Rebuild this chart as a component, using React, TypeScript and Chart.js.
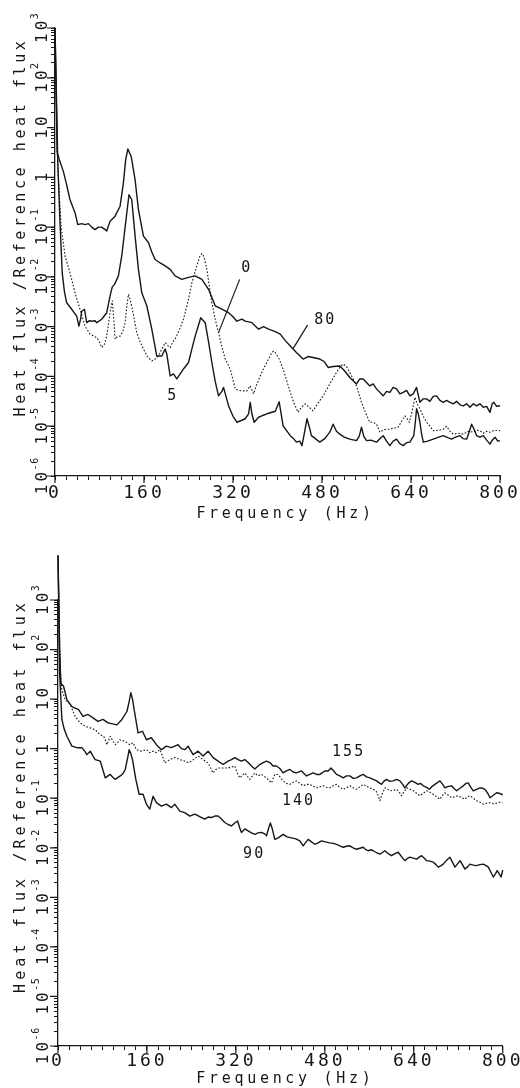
import { useEffect, useRef } from "react";
import { Chart, registerables } from "chart.js";

Chart.register(...registerables);

const INK = "#161616";
const PLOTTER_FONT = '"DejaVu Sans Mono", "Liberation Mono", monospace';

// Frequency axis (Hz)
const FREQ_MIN = 0;
const FREQ_MAX = 800;
const FREQ_STEP = 20;
const FREQ_LABEL_STEP = 160;

// Heat-flux ratio axis, decade exponents
const DECADE_MIN = -6;
const DECADE_MAX = 3;
const MINOR_MULTIPLIERS = [1, 2, 3, 4, 5, 6, 7, 8, 9];

const X_TITLE = "Frequency (Hz)";
const Y_TITLE = "Heat flux /Reference heat flux";

// Spectra: [frequency in Hz, log10(heat flux / reference heat flux)]
const spectrum80: [number, number][] = [
  [0, 3.0], [4, 0.5], [8, 0.35], [15, 0.12], [21, -0.15], [27, -0.45], [36, -0.71], [41, -0.95],
  [48, -0.93], [54, -0.95], [60, -0.93], [66, -1.0], [72, -1.05], [78, -1.0], [84, -1.0], [90, -1.05],
  [93, -1.08], [99, -0.88], [108, -0.78], [117, -0.58], [123, -0.11], [127, 0.35], [131, 0.57],
  [137, 0.42], [144, -0.05], [150, -0.65], [159, -1.18], [168, -1.31], [174, -1.5], [180, -1.65],
  [189, -1.72], [198, -1.78], [207, -1.85], [216, -1.98], [228, -2.05], [240, -2.01], [252, -1.98],
  [264, -2.05], [276, -2.25], [288, -2.58], [300, -2.65], [312, -2.72], [320, -2.8], [327, -2.89],
  [336, -2.85], [342, -2.89], [354, -2.92], [366, -3.05], [375, -3.0], [384, -3.05], [396, -3.1],
  [405, -3.15], [414, -3.28], [423, -3.39], [434, -3.52], [446, -3.65], [455, -3.6], [464, -3.62],
  [476, -3.65], [484, -3.7], [491, -3.82], [500, -3.8], [512, -3.79], [520, -3.88], [530, -4.02],
  [542, -4.15], [548, -4.05], [554, -4.05], [566, -4.19], [572, -4.15], [578, -4.25], [590, -4.39],
  [596, -4.3], [602, -4.32], [608, -4.22], [614, -4.25], [620, -4.35], [626, -4.32], [632, -4.28],
  [638, -4.39], [644, -4.35], [650, -4.22], [656, -4.52], [662, -4.45], [668, -4.45], [674, -4.5],
  [680, -4.4], [686, -4.39], [692, -4.48], [698, -4.52], [704, -4.48], [710, -4.52], [716, -4.55],
  [722, -4.5], [728, -4.57], [734, -4.59], [740, -4.55], [746, -4.62], [752, -4.55], [758, -4.59],
  [764, -4.55], [770, -4.62], [776, -4.6], [782, -4.72], [786, -4.55], [789, -4.52], [794, -4.6],
  [800, -4.59],
];

const spectrum5: [number, number][] = [
  [0, 3.0], [5, 0.3], [9, -0.9], [13, -1.92], [17, -2.3], [21, -2.52], [30, -2.65], [39, -2.79],
  [43, -2.99], [46, -2.85], [48, -2.69], [53, -2.65], [57, -2.92], [62, -2.88], [66, -2.89],
  [72, -2.88], [75, -2.92], [84, -2.85], [93, -2.72], [99, -2.38], [103, -2.2], [107, -2.15],
  [114, -1.98], [120, -1.58], [127, -0.91], [133, -0.35], [138, -0.45], [144, -1.18], [150, -1.85],
  [156, -2.32], [165, -2.58], [174, -3.05], [183, -3.59], [192, -3.59], [198, -3.45], [201, -3.55],
  [207, -3.99], [213, -3.95], [219, -4.05], [225, -3.95], [231, -3.85], [240, -3.72], [246, -3.45],
  [252, -3.19], [262, -2.82], [270, -2.92], [276, -3.3], [282, -3.72], [288, -4.1], [294, -4.39],
  [300, -4.3], [303, -4.22], [312, -4.59], [320, -4.8], [327, -4.92], [336, -4.88], [342, -4.85],
  [348, -4.75], [351, -4.52], [354, -4.75], [358, -4.92], [366, -4.82], [372, -4.79], [381, -4.75],
  [390, -4.72], [396, -4.7], [403, -4.51], [410, -4.99], [417, -5.1], [423, -5.19], [429, -5.25],
  [434, -5.32], [440, -5.3], [444, -5.39], [449, -5.1], [453, -4.85], [458, -5.05], [461, -5.19],
  [468, -5.25], [476, -5.32], [485, -5.25], [494, -5.12], [500, -4.96], [506, -5.1], [512, -5.16],
  [520, -5.22], [530, -5.26], [542, -5.29], [547, -5.2], [551, -5.02], [555, -5.2], [560, -5.29],
  [568, -5.28], [578, -5.32], [584, -5.25], [590, -5.19], [596, -5.3], [602, -5.39], [608, -5.3],
  [614, -5.26], [620, -5.35], [626, -5.39], [632, -5.33], [638, -5.32], [645, -5.19], [648, -4.9],
  [650, -4.65], [653, -4.75], [656, -4.92], [659, -5.15], [662, -5.32], [670, -5.3], [680, -5.26],
  [690, -5.22], [698, -5.19], [706, -5.23], [713, -5.26], [720, -5.22], [728, -5.19], [734, -5.25],
  [740, -5.26], [745, -5.1], [749, -4.96], [753, -5.05], [758, -5.19], [764, -5.22], [770, -5.19],
  [776, -5.28], [782, -5.36], [786, -5.28], [791, -5.22], [796, -5.3], [800, -5.29],
];

const spectrum0: [number, number][] = [
  [0, 3.0], [4, 0.5], [8, -0.4], [11, -0.98], [18, -1.58], [27, -1.92], [36, -2.32], [45, -2.65],
  [54, -2.99], [63, -3.15], [75, -3.22], [80, -3.3], [84, -3.42], [89, -3.35], [93, -3.19],
  [99, -2.72], [103, -2.48], [106, -2.9], [108, -3.25], [112, -3.2], [117, -3.19], [122, -3.1],
  [126, -2.92], [129, -2.6], [132, -2.35], [135, -2.45], [139, -2.65], [147, -3.12], [153, -3.3],
  [159, -3.45], [166, -3.6], [174, -3.69], [180, -3.65], [186, -3.59], [192, -3.45], [198, -3.32],
  [203, -3.38], [207, -3.42], [212, -3.3], [216, -3.25], [224, -3.05], [231, -2.85], [240, -2.45],
  [246, -2.12], [255, -1.78], [260, -1.6], [264, -1.53], [268, -1.6], [273, -1.85], [282, -2.52],
  [288, -2.85], [294, -3.12], [300, -3.4], [306, -3.65], [315, -3.85], [324, -4.25], [330, -4.28],
  [336, -4.29], [345, -4.29], [351, -4.19], [357, -4.35], [363, -4.15], [369, -3.99], [376, -3.82],
  [384, -3.65], [390, -3.52], [393, -3.49], [396, -3.52], [403, -3.65], [410, -3.85], [417, -4.1],
  [423, -4.32], [430, -4.55], [437, -4.72], [443, -4.62], [450, -4.55], [457, -4.62], [464, -4.69],
  [472, -4.55], [482, -4.39], [494, -4.15], [506, -3.92], [512, -3.82], [518, -3.75], [524, -3.8],
  [530, -3.92], [536, -4.05], [542, -4.19], [551, -4.52], [558, -4.72], [566, -4.92], [572, -4.92],
  [578, -4.96], [584, -5.12], [590, -5.08], [596, -5.06], [602, -5.06], [608, -5.04], [617, -5.02],
  [623, -4.9], [629, -4.79], [633, -4.85], [637, -4.92], [642, -4.7], [647, -4.42], [651, -4.55],
  [656, -4.65], [662, -4.8], [668, -4.92], [674, -5.0], [680, -5.09], [690, -5.08], [698, -5.06],
  [704, -5.0], [710, -5.1], [716, -5.16], [725, -5.14], [734, -5.16], [743, -5.1], [752, -5.12],
  [758, -5.08], [764, -5.09], [770, -5.14], [776, -5.1], [782, -5.12], [790, -5.08], [800, -5.09],
];

const spectrum155: [number, number][] = [
  [0, 3.9], [3, 2.0], [5, 1.32], [10, 1.26], [16, 0.99], [25, 0.85], [31, 0.82], [37, 0.79],
  [45, 0.65], [54, 0.69], [63, 0.62], [72, 0.55], [81, 0.59], [90, 0.52], [98, 0.5], [106, 0.48],
  [115, 0.59], [124, 0.75], [128, 0.95], [131, 1.13], [134, 1.0], [137, 0.79], [144, 0.32],
  [152, 0.35], [159, 0.18], [168, 0.22], [177, 0.08], [186, -0.02], [195, 0.05], [204, 0.02],
  [210, 0.05], [216, 0.08], [222, 0.0], [228, -0.02], [234, 0.05], [243, -0.12], [252, -0.05],
  [261, -0.15], [270, -0.05], [279, -0.18], [288, -0.25], [297, -0.32], [306, -0.25], [312, -0.22],
  [318, -0.18], [324, -0.22], [330, -0.25], [336, -0.22], [342, -0.28], [348, -0.35], [354, -0.41],
  [363, -0.32], [369, -0.28], [375, -0.25], [381, -0.28], [387, -0.35], [393, -0.35], [399, -0.4],
  [405, -0.49], [411, -0.45], [417, -0.42], [423, -0.47], [429, -0.49], [438, -0.45], [447, -0.55],
  [453, -0.52], [459, -0.49], [465, -0.52], [471, -0.52], [480, -0.45], [486, -0.45], [491, -0.39],
  [496, -0.45], [501, -0.52], [507, -0.55], [513, -0.59], [519, -0.55], [525, -0.55], [531, -0.6],
  [537, -0.59], [543, -0.55], [549, -0.52], [555, -0.57], [561, -0.59], [567, -0.62], [573, -0.65],
  [578, -0.69], [582, -0.72], [586, -0.66], [591, -0.62], [597, -0.66], [603, -0.65], [609, -0.62],
  [615, -0.65], [620, -0.72], [624, -0.79], [630, -0.7], [636, -0.65], [642, -0.68], [648, -0.72],
  [652, -0.7], [657, -0.75], [663, -0.78], [668, -0.82], [673, -0.76], [678, -0.72], [683, -0.68],
  [687, -0.65], [692, -0.72], [696, -0.79], [702, -0.76], [708, -0.75], [712, -0.8], [717, -0.85],
  [723, -0.8], [729, -0.75], [734, -0.7], [738, -0.69], [742, -0.77], [747, -0.85], [753, -0.82],
  [759, -0.79], [764, -0.8], [768, -0.82], [773, -0.9], [777, -0.99], [783, -0.94], [789, -0.89],
  [794, -0.9], [798, -0.92], [800, -0.93],
];

const spectrum140: [number, number][] = [
  [0, 3.9], [4, 1.6], [7, 1.19], [13, 0.99], [22, 0.89], [31, 0.65], [40, 0.52], [49, 0.45],
  [58, 0.42], [67, 0.38], [76, 0.28], [82, 0.25], [85, 0.18], [88, 0.08], [94, 0.25], [99, 0.15],
  [103, 0.08], [107, 0.12], [111, 0.18], [120, 0.15], [129, 0.08], [135, 0.12], [141, -0.02],
  [150, -0.05], [159, -0.02], [165, -0.08], [171, -0.05], [177, -0.08], [183, -0.02], [188, -0.15],
  [192, -0.29], [201, -0.22], [210, -0.18], [219, -0.22], [228, -0.25], [234, -0.28], [240, -0.25],
  [246, -0.2], [252, -0.15], [261, -0.22], [270, -0.29], [275, -0.4], [279, -0.49], [284, -0.42],
  [288, -0.39], [297, -0.39], [306, -0.39], [312, -0.37], [318, -0.35], [322, -0.48], [327, -0.59],
  [336, -0.49], [345, -0.62], [354, -0.49], [360, -0.55], [366, -0.52], [375, -0.59], [384, -0.69],
  [390, -0.52], [396, -0.52], [405, -0.65], [411, -0.7], [417, -0.72], [423, -0.68], [429, -0.65],
  [435, -0.7], [441, -0.75], [447, -0.72], [453, -0.72], [459, -0.76], [465, -0.79], [471, -0.77],
  [477, -0.75], [483, -0.78], [489, -0.79], [495, -0.75], [501, -0.72], [507, -0.78], [513, -0.82],
  [519, -0.79], [525, -0.75], [531, -0.79], [537, -0.82], [543, -0.77], [549, -0.72], [555, -0.76],
  [561, -0.79], [567, -0.82], [572, -0.85], [576, -0.95], [579, -1.05], [583, -0.92], [588, -0.79],
  [593, -0.82], [597, -0.85], [603, -0.84], [609, -0.82], [614, -0.88], [618, -0.95], [622, -0.88],
  [627, -0.79], [633, -0.82], [639, -0.85], [645, -0.9], [651, -0.95], [657, -0.9], [663, -0.85],
  [669, -0.88], [675, -0.92], [681, -0.97], [687, -1.02], [691, -0.95], [696, -0.89], [702, -0.94],
  [708, -0.99], [714, -0.97], [720, -0.95], [726, -0.99], [732, -1.02], [736, -0.98], [741, -0.95],
  [747, -1.0], [753, -1.05], [759, -1.08], [765, -1.12], [771, -1.1], [777, -1.09], [783, -1.11],
  [789, -1.1], [794, -1.08], [800, -1.08],
];

const spectrum90: [number, number][] = [
  [0, 3.9], [3, 1.5], [7, 0.59], [11, 0.4], [16, 0.25], [25, 0.05], [34, 0.02], [43, 0.02],
  [48, -0.05], [52, -0.12], [58, -0.05], [63, -0.15], [67, -0.22], [76, -0.25], [80, -0.4],
  [85, -0.59], [90, -0.55], [94, -0.52], [99, -0.58], [103, -0.62], [112, -0.55], [117, -0.5],
  [121, -0.42], [125, -0.2], [128, -0.02], [131, -0.1], [134, -0.22], [140, -0.62], [146, -0.92],
  [153, -0.92], [159, -1.12], [165, -1.22], [171, -0.96], [177, -1.09], [186, -1.16], [195, -1.12],
  [204, -1.19], [210, -1.12], [219, -1.26], [228, -1.29], [237, -1.36], [246, -1.32], [255, -1.37],
  [264, -1.42], [270, -1.38], [276, -1.39], [282, -1.36], [288, -1.36], [294, -1.42], [300, -1.49],
  [306, -1.53], [312, -1.56], [318, -1.5], [323, -1.46], [327, -1.6], [330, -1.69], [336, -1.62],
  [342, -1.66], [348, -1.7], [354, -1.73], [360, -1.7], [366, -1.69], [372, -1.72], [375, -1.76],
  [379, -1.6], [382, -1.5], [385, -1.6], [390, -1.83], [396, -1.8], [405, -1.73], [412, -1.78],
  [420, -1.8], [428, -1.82], [435, -1.86], [441, -1.96], [445, -1.9], [450, -1.83], [456, -1.88],
  [462, -1.93], [468, -1.9], [474, -1.86], [481, -1.88], [489, -1.9], [495, -1.91], [501, -1.93],
  [507, -1.96], [513, -1.99], [519, -1.97], [525, -1.96], [531, -2.0], [537, -2.03], [543, -2.01],
  [549, -1.99], [553, -2.03], [558, -2.06], [563, -2.04], [567, -2.06], [573, -2.1], [579, -2.13],
  [584, -2.09], [588, -2.06], [594, -2.12], [600, -2.16], [606, -2.12], [612, -2.09], [618, -2.18],
  [624, -2.26], [628, -2.22], [633, -2.19], [639, -2.21], [645, -2.23], [650, -2.19], [654, -2.16],
  [659, -2.21], [663, -2.26], [669, -2.27], [675, -2.29], [680, -2.34], [684, -2.39], [689, -2.36],
  [693, -2.33], [699, -2.25], [705, -2.19], [710, -2.3], [714, -2.39], [719, -2.32], [723, -2.26],
  [728, -2.35], [732, -2.43], [737, -2.38], [741, -2.33], [747, -2.35], [753, -2.36], [759, -2.34],
  [765, -2.33], [770, -2.36], [774, -2.39], [779, -2.5], [783, -2.59], [787, -2.52], [790, -2.46],
  [794, -2.53], [797, -2.59], [800, -2.45],
];

// Curve tags [frequency, log10 ratio] and their leader lines
const upperTags: { text: string; at: [number, number] }[] = [
  { text: "0", at: [343, -1.83] },
  { text: "80", at: [484, -2.87] },
  { text: "5", at: [210, -4.39] },
];
const upperLeaders: { from: [number, number]; to: [number, number] }[] = [
  { from: [332, -2.05], to: [294, -3.12] },
  { from: [454, -2.97], to: [428, -3.44] },
];
const lowerTags: { text: string; at: [number, number] }[] = [
  { text: "155", at: [521, -0.07] },
  { text: "140", at: [431, -1.06] },
  { text: "90", at: [351, -2.12] },
];

type Curve = { label: string; points: [number, number][]; dotted: boolean };
type Panel = {
  curves: Curve[];
  tags: { text: string; at: [number, number] }[];
  leaders: { from: [number, number]; to: [number, number] }[];
  area: { left: number; top: number; right: number; bottom: number };
  xTickPad: number;
  xTitleDy: number;
  xTitleDx: number;
  yLabelGap: number;
  yTitleX: number;
  yTitleDy: number;
  yTitleSpacing: number;
};

const CANVAS_W = 520;
const CANVAS_H = 544;

const upperPanel: Panel = {
  curves: [
    { label: "80", points: spectrum80, dotted: false },
    { label: "5", points: spectrum5, dotted: false },
    { label: "0", points: spectrum0, dotted: true },
  ],
  tags: upperTags,
  leaders: upperLeaders,
  area: { left: 55, top: 28, right: 500, bottom: 476 },
  xTickPad: 3,
  xTitleDy: 38,
  xTitleDx: 8,
  yLabelGap: 8,
  yTitleX: 25,
  yTitleDy: -25,
  yTitleSpacing: 3.6,
};

const lowerPanel: Panel = {
  curves: [
    { label: "155", points: spectrum155, dotted: false },
    { label: "140", points: spectrum140, dotted: true },
    { label: "90", points: spectrum90, dotted: false },
  ],
  tags: lowerTags,
  leaders: [],
  area: { left: 58, top: 56, right: 503, bottom: 502 },
  xTickPad: 1,
  xTitleDy: 33,
  xTitleDx: 5,
  yLabelGap: 10,
  yTitleX: 25,
  yTitleDy: -27,
  yTitleSpacing: 4.1,
};

function ratioTicks(): number[] {
  const out: number[] = [];
  for (let e = DECADE_MIN; e < DECADE_MAX; e++) {
    for (const m of MINOR_MULTIPLIERS) out.push(m * Math.pow(10, e));
  }
  out.push(Math.pow(10, DECADE_MAX));
  return out;
}

function isDecade(v: number): boolean {
  const e = Math.log10(v);
  return Math.abs(e - Math.round(e)) < 1e-6;
}

function plotterPlugin(panel: Panel) {
  return {
    id: "plotterText",
    beforeDraw(chart: any) {
      chart.ctx.letterSpacing = "3px";
    },
    afterDraw(chart: any) {
      const { ctx } = chart;
      const x = chart.scales.x;
      const y = chart.scales.y;
      const px = (f: number) => x.getPixelForValue(f);
      const py = (e: number) => y.getPixelForValue(Math.pow(10, e));
      ctx.save();
      ctx.strokeStyle = INK;
      ctx.fillStyle = INK;
      ctx.lineWidth = 1.2;

      // longer marks at decades and at labelled frequencies
      ctx.beginPath();
      for (const t of y.ticks) {
        if (!isDecade(t.value)) continue;
        const yy = y.getPixelForValue(t.value);
        ctx.moveTo(x.left - 8, yy);
        ctx.lineTo(x.left, yy);
      }
      for (const t of x.ticks) {
        if (t.value % FREQ_LABEL_STEP !== 0) continue;
        const xx = x.getPixelForValue(t.value);
        ctx.moveTo(xx, y.bottom);
        ctx.lineTo(xx, y.bottom + 7);
      }
      ctx.stroke();

      // decade labels, written upward with raised exponents
      ctx.textAlign = "left";
      ctx.textBaseline = "alphabetic";
      for (const t of y.ticks) {
        if (!isDecade(t.value)) continue;
        const e = Math.round(Math.log10(t.value));
        const base = e === 0 ? "1" : "10";
        const sup = e === 0 || e === 1 ? "" : String(e);
        ctx.save();
        ctx.translate(x.left - panel.yLabelGap, y.getPixelForValue(t.value));
        ctx.rotate(-Math.PI / 2);
        ctx.font = `16px ${PLOTTER_FONT}`;
        ctx.letterSpacing = "3px";
        const wBase = ctx.measureText(base).width - 3;
        ctx.font = `10px ${PLOTTER_FONT}`;
        ctx.letterSpacing = "0.5px";
        const wSup = sup ? ctx.measureText(sup).width + 1 : 0;
        const start = -(wBase + wSup) / 2;
        ctx.font = `16px ${PLOTTER_FONT}`;
        ctx.letterSpacing = "3px";
        ctx.fillText(base, start, 0);
        if (sup) {
          ctx.font = `10px ${PLOTTER_FONT}`;
          ctx.letterSpacing = "0.5px";
          ctx.fillText(sup, start + wBase + 1.5, -9);
        }
        ctx.restore();
      }

      // axis titles
      ctx.font = `15px ${PLOTTER_FONT}`;
      ctx.letterSpacing = "3.7px";
      ctx.textAlign = "center";
      ctx.textBaseline = "middle";
      ctx.fillText(X_TITLE, (x.left + x.right) / 2 + panel.xTitleDx, y.bottom + panel.xTitleDy);

      ctx.save();
      ctx.translate(panel.yTitleX, (y.top + y.bottom) / 2 + panel.yTitleDy);
      ctx.rotate(-Math.PI / 2);
      ctx.letterSpacing = `${panel.yTitleSpacing}px`;
      ctx.textBaseline = "alphabetic";
      ctx.fillText(Y_TITLE, 0, 0);
      ctx.restore();

      // curve tags and leaders
      ctx.font = `15px ${PLOTTER_FONT}`;
      ctx.letterSpacing = "2px";
      ctx.textAlign = "center";
      ctx.textBaseline = "middle";
      for (const tag of panel.tags) {
        ctx.fillText(tag.text, px(tag.at[0]) + 1, py(tag.at[1]));
      }
      ctx.beginPath();
      for (const l of panel.leaders) {
        ctx.moveTo(px(l.from[0]), py(l.from[1]));
        ctx.lineTo(px(l.to[0]), py(l.to[1]));
      }
      ctx.stroke();
      ctx.letterSpacing = "0px";
      ctx.restore();
    },
  };
}

function buildChart(canvas: HTMLCanvasElement, panel: Panel) {
  const yTicks = ratioTicks();
  return new Chart(canvas, {
    type: "line",
    data: {
      datasets: panel.curves.map((c) => ({
        label: c.label,
        data: c.points.map(([f, e]) => ({ x: f, y: Math.pow(10, e) })),
        borderColor: INK,
        borderWidth: c.dotted ? 1.1 : 1.4,
        borderDash: c.dotted ? [1.6, 1.8] : [],
        borderJoinStyle: "round",
        pointRadius: 0,
        tension: 0,
        fill: false,
        clip: false,
      })),
    },
    options: {
      responsive: false,
      animation: false,
      devicePixelRatio: 1,
      events: [],
      layout: {
        padding: { left: 0, top: panel.area.top, right: CANVAS_W - panel.area.right, bottom: 0 },
      },
      plugins: { legend: { display: false }, tooltip: { enabled: false } },
      scales: {
        x: {
          type: "linear",
          position: "bottom",
          min: FREQ_MIN,
          max: FREQ_MAX,
          ticks: {
            stepSize: FREQ_STEP,
            autoSkip: false,
            maxRotation: 0,
            minRotation: 0,
            color: INK,
            padding: panel.xTickPad,
            font: { family: PLOTTER_FONT, size: 18 },
            callback: (v: any) => (Number(v) % FREQ_LABEL_STEP === 0 ? String(v) : ""),
          },
          grid: { drawOnChartArea: false, drawTicks: true, tickLength: 4, color: INK, lineWidth: 1 },
          border: { display: true, color: INK, width: 1.3 },
          afterFit: (s: any) => {
            s.height = CANVAS_H - panel.area.bottom;
          },
        },
        y: {
          type: "logarithmic",
          min: Math.pow(10, DECADE_MIN),
          max: Math.pow(10, DECADE_MAX),
          afterBuildTicks: (s: any) => {
            s.ticks = yTicks.map((v) => ({ value: v }));
          },
          ticks: { display: false },
          grid: { drawOnChartArea: false, drawTicks: true, tickLength: 4, color: INK, lineWidth: 1 },
          border: { display: true, color: INK, width: 1.3 },
          afterFit: (s: any) => {
            s.width = panel.area.left;
          },
        },
      },
    } as any,
    plugins: [plotterPlugin(panel)],
  });
}

export default function App() {
  const upperRef = useRef<HTMLCanvasElement>(null);
  const lowerRef = useRef<HTMLCanvasElement>(null);

  useEffect(() => {
    const charts = [
      buildChart(upperRef.current as HTMLCanvasElement, upperPanel),
      buildChart(lowerRef.current as HTMLCanvasElement, lowerPanel),
    ];
    return () => charts.forEach((c) => c.destroy());
  }, []);

  return (
    <div
      style={{
        position: "absolute",
        left: 0,
        top: 0,
        width: CANVAS_W,
        height: CANVAS_H * 2,
        background: "#fff",
      }}
    >
      <canvas ref={upperRef} width={CANVAS_W} height={CANVAS_H} style={{ display: "block" }} />
      <canvas ref={lowerRef} width={CANVAS_W} height={CANVAS_H} style={{ display: "block" }} />
    </div>
  );
}
